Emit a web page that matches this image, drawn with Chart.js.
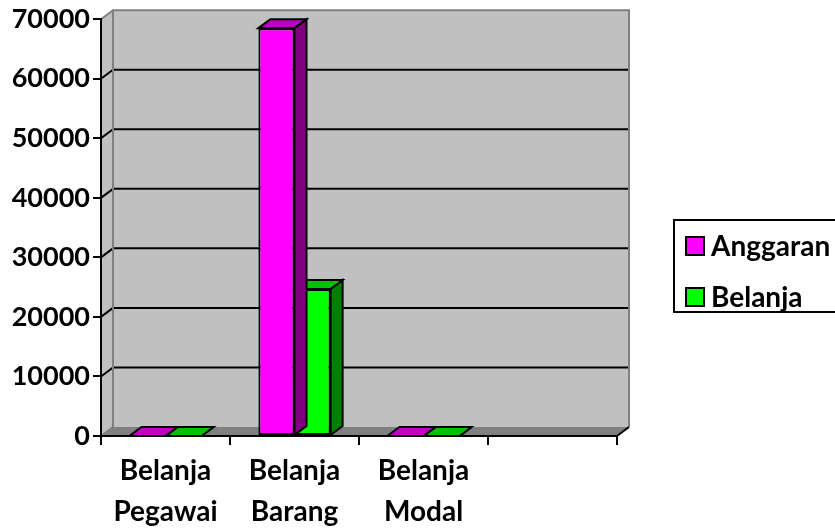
<!DOCTYPE html>
<html>
<head>
<meta charset="utf-8">
<script src="https://cdn.jsdelivr.net/npm/chart.js@4.4.1/dist/chart.umd.min.js"></script>
<style>
  html, body { margin: 0; padding: 0; background: #fff; }
  #wrap { width: 835px; height: 529px; }
</style>
</head>
<body>
<div id="wrap"><canvas id="chart" width="835" height="529"></canvas></div>
<script>
// data
const categories = [['Belanja', 'Pegawai'], ['Belanja', 'Barang'], ['Belanja', 'Modal'], ''];
const anggaran = [0, 68500, 0, null];
const belanja = [0, 24700, 0, null];
const yTicks = [0, 10000, 20000, 30000, 40000, 50000, 60000, 70000];

// 3d depth offset
const DX = 12, DY = -9;

const faceColors = [
	{ front: '#ff00ff', side: '#800080', top: '#c000c0' },
	{ front: '#00ff00', side: '#008000', top: '#00c000' }
];

function poly(ctx, pts, fill, stroke, lw) {
	ctx.beginPath();
	ctx.moveTo(pts[0][0], pts[0][1]);
	for (let i = 1; i < pts.length; i++) ctx.lineTo(pts[i][0], pts[i][1]);
	ctx.closePath();
	if (fill) { ctx.fillStyle = fill; ctx.fill(); }
	if (stroke) { ctx.strokeStyle = stroke; ctx.lineWidth = lw || 2; ctx.stroke(); }
}

const wallsPlugin = {
	id: 'walls',
	beforeDraw(chart) {
		const ctx = chart.ctx;
		const a = chart.chartArea;
		const y = chart.scales.y;
		ctx.save();
		// back wall
		poly(ctx, [[a.left + DX, a.top + DY], [a.right + DX, a.top + DY], [a.right + DX, a.bottom + DY], [a.left + DX, a.bottom + DY]], '#c0c0c0');
		// left wall
		poly(ctx, [[a.left, a.top], [a.left + DX, a.top + DY], [a.left + DX, a.bottom + DY], [a.left, a.bottom]], '#c0c0c0');
		// floor
		poly(ctx, [[a.left, a.bottom], [a.left + DX, a.bottom + DY], [a.right + DX, a.bottom + DY], [a.right, a.bottom]], '#808080');
		// grid lines on the back wall + diagonals on the side wall
		ctx.lineWidth = 2;
		yTicks.forEach((v) => {
			const py = y.getPixelForValue(v);
			const inner = v > 0 && v < 70000;
			if (inner) {
				ctx.strokeStyle = '#000';
				ctx.beginPath();
				ctx.moveTo(a.left + DX, py + DY);
				ctx.lineTo(a.right + DX, py + DY);
				ctx.stroke();
			}
			ctx.strokeStyle = inner ? '#000' : '#808080';
			ctx.beginPath();
			ctx.moveTo(a.left, py);
			ctx.lineTo(a.left + DX, py + DY);
			ctx.stroke();
		});
		// wall edges
		ctx.strokeStyle = '#808080';
		ctx.beginPath();
		ctx.moveTo(a.left + DX, a.bottom + DY);
		ctx.lineTo(a.left + DX, a.top + DY);
		ctx.lineTo(a.right + DX, a.top + DY);
		ctx.lineTo(a.right + DX, a.bottom + DY);
		ctx.stroke();
		// right end of the floor
		ctx.strokeStyle = '#000';
		ctx.beginPath();
		ctx.moveTo(a.right, a.bottom);
		ctx.lineTo(a.right + DX, a.bottom + DY);
		ctx.stroke();
		ctx.restore();
	},
	afterDatasetDraw(chart, args) {
		const ctx = chart.ctx;
		const c = faceColors[args.index];
		const raw = chart.data.datasets[args.index].data;
		ctx.save();
		ctx.lineJoin = 'miter';
		args.meta.data.forEach((bar, j) => {
			if (raw[j] == null || isNaN(bar.y) || isNaN(bar.x)) return;
			const l = bar.x - bar.width / 2, r = bar.x + bar.width / 2;
			const t = Math.min(bar.y, bar.base), b = Math.max(bar.y, bar.base);
			poly(ctx, [[r, t], [r + DX, t + DY], [r + DX, b + DY], [r, b]], c.side, '#000', 2);
			poly(ctx, [[l, t], [l + DX, t + DY], [r + DX, t + DY], [r, t]], c.top, '#000', 2);
		});
		ctx.restore();
	},
	afterDraw(chart) {
		// legend box on the right
		const ctx = chart.ctx;
		ctx.save();
		ctx.fillStyle = '#fff';
		ctx.fillRect(674, 220, 170, 92);
		ctx.strokeStyle = '#000';
		ctx.lineWidth = 2;
		ctx.strokeRect(674, 220, 170, 92);
		ctx.font = 'bold 28px Lato';
		ctx.textBaseline = 'middle';
		chart.data.datasets.forEach((ds, i) => {
			const cy = 246 + i * 51;
			ctx.fillStyle = ds.backgroundColor;
			ctx.fillRect(686, cy - 9, 18, 18);
			ctx.strokeRect(686, cy - 9, 18, 18);
			ctx.fillStyle = '#000';
			ctx.fillText(ds.label, 711, cy + 1);
		});
		ctx.restore();
	}
};

const ctx = document.getElementById('chart').getContext('2d');

new Chart(ctx, {
	type: 'bar',
	data: {
		labels: categories,
		datasets: [{
			label: 'Anggaran',
			data: anggaran,
			backgroundColor: faceColors[0].front,
			borderColor: '#000',
			borderWidth: 2,
			borderSkipped: false,
			clip: false
		}, {
			label: 'Belanja',
			data: belanja,
			backgroundColor: faceColors[1].front,
			borderColor: '#000',
			borderWidth: 2,
			borderSkipped: false,
			clip: false
		}]
	},
	options: {
		responsive: false,
		animation: false,
		layout: { padding: { left: 0, top: 19, right: 218, bottom: 0 } },
		datasets: { bar: { categoryPercentage: 0.56, barPercentage: 1.0 } },
		scales: {
			x: {
				afterFit: (s) => { s.height = 93; },
				grid: { drawOnChartArea: false, tickLength: 9, color: '#000', lineWidth: 2, offset: true },
				border: { color: '#000', width: 2 },
				ticks: { color: '#000', font: { family: 'Lato', weight: 'bold', size: 28, lineHeight: 1.45 }, padding: 6, maxRotation: 0 }
			},
			y: {
				min: 0,
				max: 70000,
				afterFit: (s) => { s.width = 101; },
				grid: { drawOnChartArea: false, tickLength: 8, color: '#000', lineWidth: 2 },
				border: { color: '#000', width: 2 },
				ticks: {
					stepSize: 10000,
					color: '#000',
					font: { family: 'Lato', weight: 'bold', size: 27 },
					padding: 3,
					callback: (v) => String(v)
				}
			}
		},
		plugins: {
			legend: { display: false },
			tooltip: { enabled: false }
		}
	},
	plugins: [wallsPlugin]
});
</script>
</body>
</html>
